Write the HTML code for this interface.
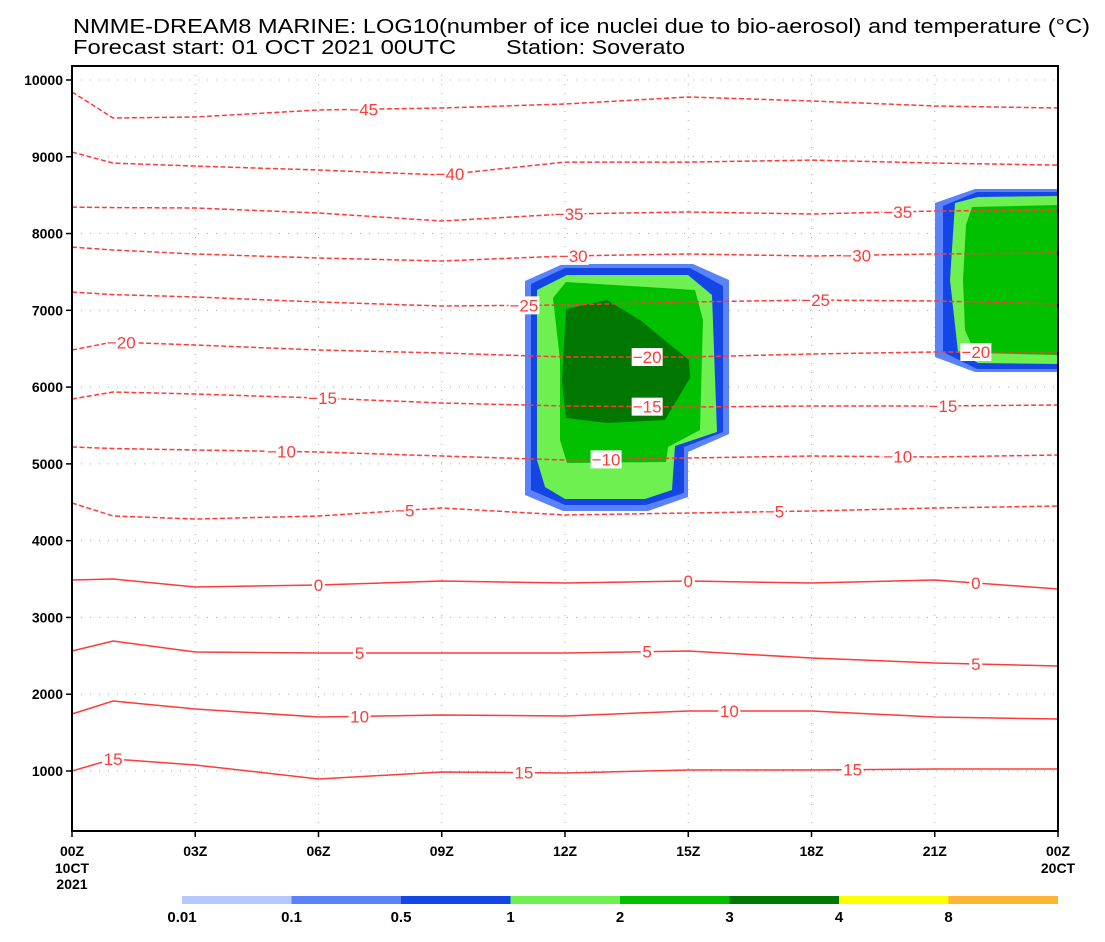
<!DOCTYPE html>
<html><head><meta charset="utf-8"><style>
body{margin:0;background:#fff}
svg text{font-family:"Liberation Sans",sans-serif}
</style></head><body>
<svg id="chart" width="1105" height="937" viewBox="0 0 1105 937" xmlns="http://www.w3.org/2000/svg">
<text x="73" y="33" font-size="20" textLength="1017" lengthAdjust="spacingAndGlyphs">NMME-DREAM8 MARINE: LOG10(number of ice nuclei due to bio-aerosol) and temperature (°C)</text>
<text x="73" y="54" font-size="20" textLength="383" lengthAdjust="spacingAndGlyphs">Forecast start: 01 OCT 2021 00UTC</text>
<text x="506" y="54" font-size="20" textLength="179" lengthAdjust="spacingAndGlyphs">Station: Soverato</text>
<g id="grid"></g>
<g id="shade"></g>
<g id="lines"></g>
<g id="labels"></g>
<rect x="72" y="66" width="986" height="765" fill="none" stroke="#000" stroke-width="2"/>
<g id="axes"></g>
<g id="cbar"></g>
</svg>
<script>
const times=[0,1,3,6,9,12,15,18,21,24];
const levels=[-45,-40,-35,-30,-25,-20,-15,-10,-5,0,5,10,15];
const h_m45=[9843,9505,9518,9609,9635,9687,9778,9726,9661,9635];
const h_m40=[9062,8918,8879,8827,8762,8931,8931,8957,8918,8892];
const h_m35=[8345,8338,8332,8267,8163,8254,8280,8254,8293,8306];
const h_m30=[7824,7785,7733,7681,7642,7707,7733,7707,7733,7746];
const h_m25=[7238,7205,7173,7108,7056,7069,7108,7134,7121,7082];
const h_m20=[6483,6587,6548,6483,6444,6392,6392,6431,6457,6457];
const h_m15=[5845,5936,5910,5858,5793,5754,5741,5754,5754,5767];
const h_m10=[5220,5200,5181,5155,5103,5050,5076,5103,5090,5116];
const h_m5=[4490,4321,4282,4321,4425,4334,4360,4386,4425,4451];
const h_0=[3488,3501,3397,3422,3475,3448,3475,3448,3488,3370];
const h_5=[2563,2693,2550,2537,2537,2537,2563,2472,2407,2367];
const h_10=[1742,1912,1807,1703,1729,1716,1781,1781,1703,1677];
const h_15=[1000,1156,1078,896,987,974,1013,1013,1026,1026];
const series=[h_m45,h_m40,h_m35,h_m30,h_m25,h_m20,h_m15,h_m10,h_m5,h_0,h_5,h_10,h_15];
const labelTimes=[[7.1],[9.2],[12.1,20.1],[12.2,19.1],[11.0,18.1],[1.2,14.0,22.0],[6.1,14.0,21.2],[5.1,13.0,20.1],[8.1,17.1],[6.0,15.0,22.0],[7.0,14.0,22.0],[7.0,16.0],[1.0,11.0,19.0]];
const yTicks=[1000,2000,3000,4000,5000,6000,7000,8000,9000,10000];
const xTicks=[0,3,6,9,12,15,18,21,24];
const xLabels=["00Z","03Z","06Z","09Z","12Z","15Z","18Z","21Z","00Z"];
const cbColors=["#b4c8ff","#5a82fa","#1446e6","#6ef050","#00c000","#007800","#ffff00","#ffb432"];
const cbLabels=["0.01","0.1","0.5","1","2","3","4","8"];
const X=t=>72+t*(986/24);
const Y=h=>771-(h-1000)*0.07678;
const NS="http://www.w3.org/2000/svg";
function mk(tag,attrs,parent){const e=document.createElementNS(NS,tag);for(const k in attrs)e.setAttribute(k,attrs[k]);parent.appendChild(e);return e;}
const grid=document.getElementById('grid');
xTicks.forEach(t=>{const l=mk('line',{x1:X(t),x2:X(t),y1:66,y2:831,stroke:'#aaa','stroke-dasharray':'1 8'},grid);

});
yTicks.forEach(h=>{const l=mk('line',{x1:72,x2:1058,y1:Y(h),y2:Y(h),stroke:'#aaa','stroke-dasharray':'1 8'},grid);

});
const shade=document.getElementById('shade');
const polys=[
[1,"525,281 563,264 693,264 729,280 729,434 688,452 688,497 648,511 563,511 525,495"],
[2,"531,284 565,268 690,268 723,286 723,432 684,447 684,493 646,505 565,505 531,490"],
[3,"537,290 567,275 688,275 712,295 717,432 675,446 672,490 645,499 565,499 545,487 537,460"],
[4,"553,298 566,282 695,290 703,320 700,430 668,447 666,462 567,463 560,440 560,360"],
[5,"566,309 607,300 640,320 689,360 690,378 665,420 607,423 566,418 562,380"],
[1,"935,203 975,189 1058,189 1058,372 975,372 935,357"],
[2,"943,206 977,192 1058,192 1058,369 977,369 943,352"],
[3,"955,203 978,197 1058,196 1058,364 978,363 958,352 950,280"],
[4,"972,207 1058,205 1058,355 975,353 965,330 963,280 966,225"]];
polys.forEach(p=>{const e=mk('polygon',{points:p[1],fill:cbColors[p[0]]},shade);

});
const lines=document.getElementById('lines'),labs=document.getElementById('labels');
function interp(arr,t){for(let i=0;i<times.length-1;i++){if(t<=times[i+1]){const f=(t-times[i])/(times[i+1]-times[i]);return arr[i]+f*(arr[i+1]-arr[i]);}}return arr[arr.length-1];}
series.forEach((arr,i)=>{
 const lv=levels[i];
 const d=arr.map((h,j)=>(j?'L':'M')+X(times[j]).toFixed(1)+','+Y(h).toFixed(1)).join(' ');
 const p=mk('path',{d:d,fill:'none',stroke:'#ff3a3a','stroke-width':1.5},lines);
 if(lv<0)p.setAttribute('stroke-dasharray','5 2.5');
 
 
 labelTimes[i].forEach(t=>{
  const x=X(t),y=Y(interp(arr,t));const txt=(lv<0?'\u2212':'')+Math.abs(lv);
  const w=txt.length*9+4;
  const r=mk('rect',{x:x-w/2,y:y-9,width:w,height:18,fill:'#fff'},labs);
  
  
  const tx=mk('text',{x:x,y:y+6,'text-anchor':'middle','font-size':17,fill:'#ff3a3a'},labs);
  tx.textContent=txt;
  
  
 });
});
const axes=document.getElementById('axes');
yTicks.forEach(h=>{const l=mk('line',{x1:66,x2:72,y1:Y(h),y2:Y(h),stroke:'#000','stroke-width':1.5},axes);


const t=mk('text',{x:63,y:Y(h)+5,'text-anchor':'end','font-size':14,'font-weight':'bold'},axes);t.textContent=h;

});
xTicks.forEach((v,i)=>{const l=mk('line',{x1:X(v),x2:X(v),y1:831,y2:837,stroke:'#000','stroke-width':1.5},axes);


const t=mk('text',{x:X(v),y:856,'text-anchor':'middle','font-size':14,'font-weight':'bold'},axes);t.textContent=xLabels[i];

});
[[0,"10CT",873],[0,"2021",889],[24,"20CT",873]].forEach(a=>{const t=mk('text',{x:X(a[0]),y:a[2],'text-anchor':'middle','font-size':14,'font-weight':'bold'},axes);t.textContent=a[1];

});
const cb=document.getElementById('cbar');
cbColors.forEach((c,i)=>{const r=mk('rect',{x:182+i*109.5,y:896,width:109.5,height:8,fill:c},cb);


const t=mk('text',{x:182+i*109.5,y:922,'text-anchor':'middle','font-size':15,'font-weight':'bold'},cb);t.textContent=cbLabels[i];

});
</script>
</body></html>
